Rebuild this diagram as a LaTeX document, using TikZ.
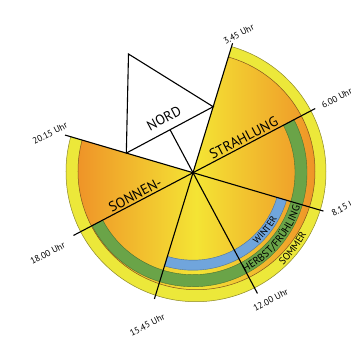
\documentclass[tikz,border=0pt]{standalone}
\usepackage{fontspec}
\setmainfont{PT Sans}
\usetikzlibrary{calc,decorations.text}
\definecolor{ringyellow}{RGB}{236,232,58}
\definecolor{sunyellow}{RGB}{244,228,52}
\definecolor{sunorange}{RGB}{239,148,40}
\definecolor{ringgreen}{RGB}{106,164,72}
\definecolor{ringblue}{RGB}{112,165,220}
\definecolor{edgeolive}{RGB}{140,135,40}
\definecolor{edgebrown}{RGB}{130,85,30}
\begin{document}
\begin{tikzpicture}[x=1pt,y=1pt,
  clockline/.style={line width=1.1pt, black},
  timelabel/.style={font=\fontsize{9}{10}\selectfont, rotate=27.5, inner sep=0pt},
  biglabel/.style={font=\fontsize{14}{15}\selectfont, inner sep=2pt},
  ringtext/.style={decorate, decoration={text along path, text align=center, text={#1}}},
]
\fill[white] (-193,-165.3) rectangle (158,172.7);
\useasboundingbox (-193,-165.3) rectangle (158,172.7);
\coordinate (O) at (0,0);
% disc sectors
\begin{scope}
\clip (O) -- (73:300) -- (20:300) -- (-40:300) -- (-100:300) -- (-160:300) -- (163.6:300) -- cycle;
\filldraw[fill=ringyellow, draw=edgeolive, line width=0.5pt] (3,1) circle[radius=130];
\shade[left color=sunorange, right color=sunorange, middle color=sunyellow] (3.5,1.5) circle[radius=118.5];
\draw[edgebrown, line width=0.5pt] (3.5,1.5) circle[radius=118.5];
\end{scope}
% green ring
\filldraw[fill=ringgreen, draw=ringgreen!70!black, line width=0.4pt] (27.7:102) arc[start angle=27.7, end angle=-152.3, radius=102] -- (-152.3:114) arc[start angle=-152.3, end angle=27.7, radius=114] -- cycle;
% blue ring
\filldraw[fill=ringblue, draw=ringblue!70!black, line width=0.4pt] (-16.4:87.5) arc[start angle=-16.4, end angle=-107, radius=87.5] -- (-107:97.5) arc[start angle=-107, end angle=-16.4, radius=97.5] -- cycle;
% north triangle
\coordinate (TR) at (73:69);
\coordinate (BL) at (163.6:69.5);
\coordinate (AP) at (-64.5,118.7);
\coordinate (F) at ($(BL)!(O)!(TR)$);
\filldraw[fill=white, draw=black, line width=1.1pt, line join=miter] (AP) -- (TR) -- (BL) -- cycle;
% clock lines
\coordinate (e345) at (73:135.4);
\coordinate (e1545) at (253:132);
\coordinate (e600) at (27.7:138);
\coordinate (e1800) at (207.7:135);
\coordinate (e815) at (-16.4:136);
\coordinate (e2015) at (163.6:133.4);
\coordinate (e1200) at ($(O)!-2.81!(F)$);
\draw[clockline] (e345) -- (e1545);
\draw[clockline] (e600) -- (e1800);
\draw[clockline] (e815) -- (e2015);
\draw[clockline] (F) -- (e1200);
% big labels
\node[biglabel, rotate=27.7, anchor=south] (strahlung) at (27.7:61) {STRAHLUNG};
\node[biglabel, rotate=27.7, anchor=south] (sonnen) at (207.7:61.4) {SONNEN-};
\node[biglabel, rotate=28, inner sep=0pt] (nord) at ($(F)!12.9pt!90:(TR)$) {NORD};
% time labels
\node[timelabel] (t345) at (45.7,138.4) {3.45 Uhr};
\node[timelabel, anchor=west] (t600) at (129,66.7) {6.00 Uhr};
\node[timelabel, anchor=west] (t815) at (139,-41) {8.15 Uhr};
\node[timelabel] (t1200) at (77.7,-127.3) {12.00 Uhr};
\node[timelabel] (t1545) at (-45.7,-152.3) {15.45 Uhr};
\node[timelabel] (t1800) at (-145.3,-80.6) {18.00 Uhr};
\node[timelabel] (t2015) at (-143,39.4) {20.15 Uhr};
% ring texts
\path[ringtext={|\fontsize{9.5}{10}\selectfont|WINTER}] (-58.5:96) arc[start angle=-58.5, end angle=-18.5, radius=96];
\path[ringtext={|\fontsize{10.5}{11}\selectfont|HERBST/FRÜHLING}] (-70:112.5) arc[start angle=-70, end angle=-10, radius=112.5];
\path[ringtext={|\fontsize{10}{11}\selectfont|SOMMER}] (-57:129) arc[start angle=-57, end angle=-17, radius=129];
\end{tikzpicture}
\end{document}
